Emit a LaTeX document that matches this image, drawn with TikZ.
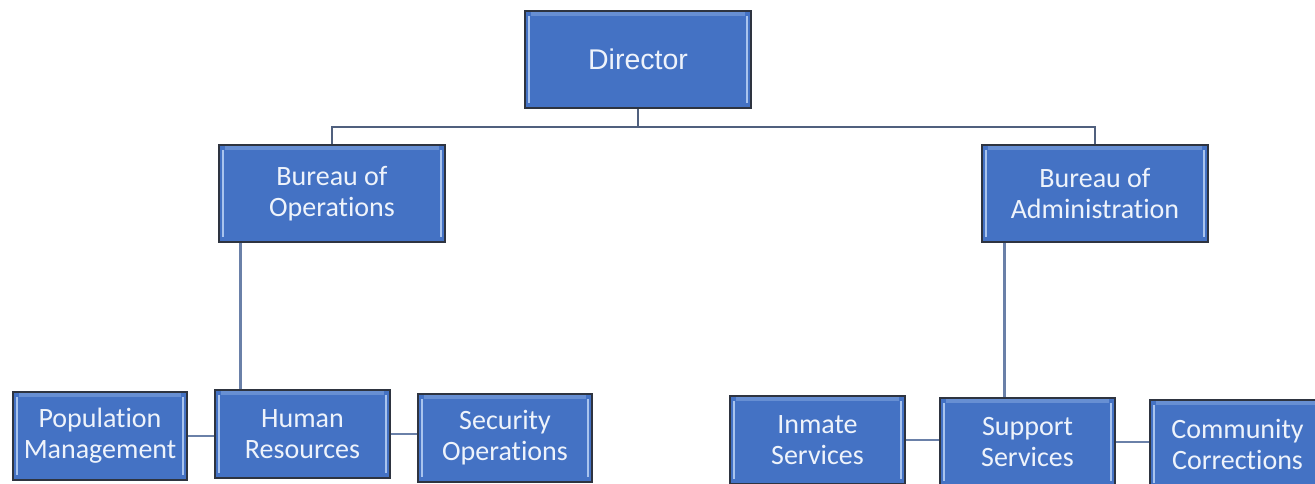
\documentclass[tikz,border=0pt]{standalone}
\usepackage{fontspec}
\setmainfont[Ligatures=NoCommon]{Carlito}
\newfontfamily\arialfont{Liberation Sans}
\definecolor{boxfill}{HTML}{4472C4}
\definecolor{boxedge}{HTML}{2E3440}
\definecolor{bevel}{HTML}{A9C4EE}
\definecolor{txtc}{HTML}{EEF3FB}
\definecolor{linec}{HTML}{6A80A8}
\pgfdeclarelayer{paper}
\pgfdeclarelayer{bg}
\pgfsetlayers{paper,bg,main}
\begin{document}
\begin{tikzpicture}[x=1pt,y=-1pt,
  orgbox/.style={draw=boxedge, line width=1.3pt, fill=boxfill, text=txtc,
    align=center, inner sep=0pt,
    font=\fontsize{28}{31}\selectfont,
    path picture={
      \draw[bevel, line width=2pt]
        ([xshift=4pt,yshift=-5pt]path picture bounding box.north west) --
        ([xshift=4pt,yshift=5pt]path picture bounding box.south west);
      \draw[bevel, line width=2pt]
        ([xshift=-4pt,yshift=-5pt]path picture bounding box.north east) --
        ([xshift=-4pt,yshift=5pt]path picture bounding box.south east);
      \fill[bevel!35!boxfill]
        ([xshift=6pt,yshift=-1pt]path picture bounding box.north west) rectangle
        ([xshift=-6pt,yshift=-5pt]path picture bounding box.north east);
    }},
  topline/.style={draw=linec!75!black, line width=1.4pt},
  link/.style={draw=linec, line width=2.4pt}
]
\useasboundingbox (0,0) rectangle (1315,483);
\begin{pgfonlayer}{paper}
  \fill[white] (0,0) rectangle (1315,483);
\end{pgfonlayer}
\clip (0,0) rectangle (1315,483);

% nodes
\node[orgbox, minimum width=226pt, minimum height=97pt, font=\arialfont\fontsize{28.5}{32}\selectfont] (dir) at (638,59.5) {Director};
\node[orgbox, minimum width=226pt, minimum height=97pt] (ops) at (332,193.5) {Bureau of\\Operations};
\node[orgbox, minimum width=226pt, minimum height=97pt] (adm) at (1095,193.5) {Bureau of\\Administration};

\node[orgbox, minimum width=174pt, minimum height=88pt] (pm) at (100,436) {Population\\Management};
\node[orgbox, minimum width=175pt, minimum height=88pt] (hr) at (302.5,434) {Human\\Resources};
\node[orgbox, minimum width=174pt, minimum height=88pt] (so) at (505,438) {Security\\Operations};

\node[orgbox, minimum width=175pt, minimum height=88pt] (is) at (817.5,440) {Inmate\\Services};
\node[orgbox, minimum width=175pt, minimum height=88pt] (ss) at (1027.5,442) {Support\\Services};
\node[orgbox, minimum width=175pt, minimum height=88pt] (cc) at (1237.5,444) {Community\\Corrections};

\coordinate (j) at (638,127);

\begin{pgfonlayer}{bg}
  \draw[topline] (dir.south) -- (j);
  \draw[topline] (ops.north) |- (j) -| (adm.north);
  \draw[link] ([xshift=22pt]ops.south west) -- ([xshift=22pt]ops.south west |- hr.north);
  \draw[link] ([xshift=23pt]adm.south west) -- ([xshift=23pt]adm.south west |- ss.north);
  \draw[link] (pm.east) -- (pm.east -| hr.west);
  \draw[link] (hr.east) -- (hr.east -| so.west);
  \draw[link] (is.east) -- (is.east -| ss.west);
  \draw[link] (ss.east) -- (ss.east -| cc.west);
\end{pgfonlayer}
\end{tikzpicture}
\end{document}
